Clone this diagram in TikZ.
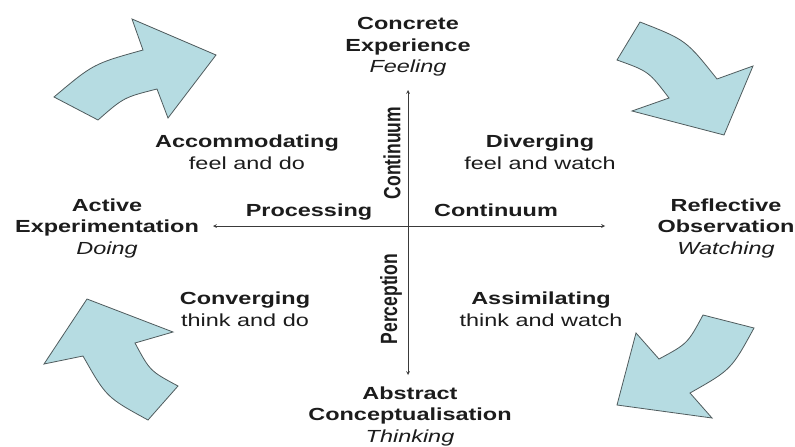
\documentclass[tikz,border=0pt]{standalone}
\usepackage{fontspec}
\setmainfont{Liberation Sans}

\definecolor{arrowfill}{HTML}{B6DCE2}
\definecolor{arrowline}{HTML}{4F5B5D}
\definecolor{inktext}{HTML}{1C1C1C}
\definecolor{axisline}{HTML}{3A3A3A}

\begin{document}
\begin{tikzpicture}[x=1pt, y=-1pt, >=stealth,
  every node/.style={text=inktext, xscale=1.34, font=\fontsize{17.5}{21.5}\selectfont},
  pole/.style={align=center, font=\fontsize{17.5}{21.5}\selectfont\bfseries},
  quadrant/.style={align=center},
  axislabel/.style={font=\fontsize{17.5}{21.5}\selectfont\bfseries},
  axis/.style={<->, draw=axisline, line width=0.7pt},
  bigarrow/.style={fill=arrowfill, draw=arrowline, line width=0.8pt, line join=miter}]

\path[use as bounding box, fill=white] (0,0) rectangle (795,447);

% learning modes at the ends of the axes
\node [pole] (concrete)   at (408,47)  {Concrete\\Experience\\\textit{\mdseries Feeling}};
\node [pole] (active)     at (107,228) {Active\\Experimentation\\\textit{\mdseries Doing}};
\node [pole] (reflective) at (726,228) {Reflective\\Observation\\\textit{\mdseries Watching}};
\node [pole] (abstract)   at (410,416) {Abstract\\Conceptualisation\\\textit{\mdseries Thinking}};

% learning styles
\node [quadrant] (accommodating) at (247,152) {\textbf{Accommodating}\\feel and do};
\node [quadrant] (diverging)     at (540,152) {\textbf{Diverging}\\feel and watch};
\node [quadrant] (converging)    at (245,309) {\textbf{Converging}\\think and do};
\node [quadrant] (assimilating)  at (541,309) {\textbf{Assimilating}\\think and watch};

% axes
\coordinate (feel)  at (408,90);
\coordinate (think) at (408,375);
\coordinate (do)    at (213,226);
\coordinate (watch) at (605,226);
\draw [axis] (think) -- (feel);
\draw [axis] (do) -- (watch);

\node [axislabel, anchor=base] (processing)  at (309,216) {Processing};
\node [axislabel, anchor=base] (continuum-h) at (496,216) {Continuum};
\node [axislabel, rotate=90]   (continuum-v) at (392,153) {Continuum};
\node [axislabel, rotate=90]   (perception)  at (391,299) {Perception};

% cycle arrows
\draw [bigarrow] (54,97) .. controls (93.4,63.8) .. (143,50) -- (132,19) -- (216,55)
  -- (168,118) -- (157,89) .. controls (123.8,97.4) .. (98,120) -- cycle;
\draw [bigarrow] (640,22) -- (617,60) .. controls (648.6,71.3) .. (669,98) -- (632,111)
  -- (724,135) -- (753,66) -- (717,79) .. controls (686,40) .. (640,22) -- cycle;
\draw [bigarrow] (703,315) -- (754,328) .. controls (731.3,369.6) .. (690,393) -- (712,418)
  -- (617,405) -- (636,333) -- (659,359) .. controls (687.6,343.6) .. (703,315) -- cycle;
\draw [bigarrow] (87,299) -- (44,364) -- (83,356) .. controls (106.4,397.3) .. (148,420)
  -- (178,386) .. controls (150,371) .. (135,343) -- (173,332) -- cycle;

\end{tikzpicture}
\end{document}
